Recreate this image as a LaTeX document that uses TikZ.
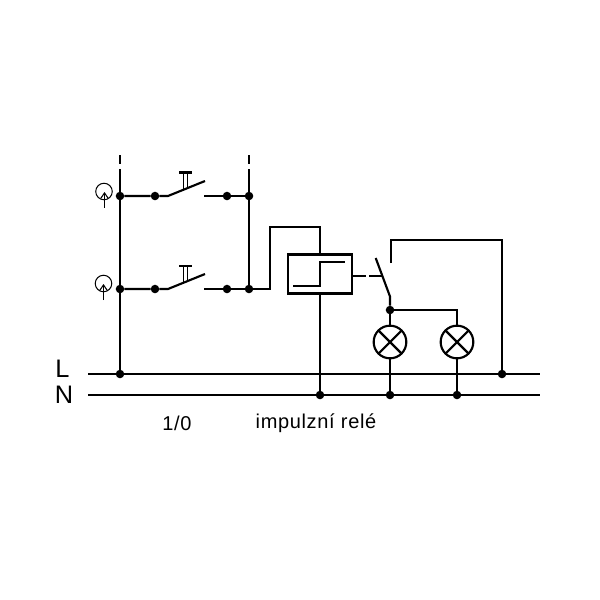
\documentclass[tikz,border=0pt]{standalone}
\usepackage{fontspec}
\setmainfont{Liberation Sans}
\usetikzlibrary{arrows.meta,calc}
\tikzset{
  wire/.style={line width=1.6pt,black},
  thin wire/.style={line width=0.8pt,black},
  junction/.style={circle,fill=black,inner sep=0pt,minimum size=6.4pt,outer sep=0pt},
  lamp/.style={circle,draw=black,line width=1.6pt,fill=white,minimum size=24.5pt,inner sep=0pt,outer sep=0pt},
  sensor/.style={circle,draw=black,line width=0.75pt,minimum size=12.4pt,inner sep=0pt,outer sep=0pt},
  relaybox/.style={rectangle,draw=black,line width=1.6pt,minimum width=48pt,minimum height=29.25pt,inner sep=0pt,outer sep=0pt},
  busname/.style={inner sep=0pt,font=\fontsize{19}{19}\selectfont},
  caption/.style={inner sep=0pt,font=\fontsize{15}{17}\selectfont\addfontfeature{LetterSpace=3.3}},
}
\begin{document}
\begin{tikzpicture}[x=0.75pt,y=-0.75pt]
\useasboundingbox[fill=white] (0,0) rectangle (600,600);
% free ends and bends
\coordinate (Lw) at (88,374); \coordinate (Le) at (540,374);
\coordinate (Nw) at (88,395); \coordinate (Ne) at (540,395);
% junctions
\node[junction] (a1) at (120,196) {};
\node[junction] (a2) at (155,196) {};
\node[junction] (a3) at (227,196) {};
\node[junction] (a4) at (249,196) {};
\node[junction] (b1) at (120,289) {};
\node[junction] (b2) at (155,289) {};
\node[junction] (b3) at (227,289) {};
\node[junction] (b4) at (249,289) {};
\node[junction] (Lj1) at (120,374) {};
\node[junction] (Lj2) at (502,374) {};
\node[junction] (Nj1) at (320,395) {};
\node[junction] (Nj2) at (390,395) {};
\node[junction] (Nj3) at (457,395) {};
\node[junction] (sw) at (390,310) {};
% lamps and relay
\node[lamp] (l1) at (390,342) {};
\node[lamp] (l2) at (457,342) {};
\node[relaybox] (rel) at (320,274) {};
\foreach \n in {l1,l2}{
  \draw[wire] (\n.45) -- (\n.225);
  \draw[wire] (\n.135) -- (\n.315);
}
% buses
\draw[wire] (Lw) -- (Le);
\draw[wire] (Nw) -- (Ne);
% left vertical + dashes
\draw[wire] (120,155) -- (120,164);
\draw[wire] (120,169) -- (a1);
\draw[wire] (a1) -- (b1);
\draw[wire] (b1) -- (Lj1);
\draw[wire] (249,155) -- (249,164);
\draw[wire] (249,169) -- (a4);
\draw[wire] (a4) -- (b4);
% push button switches
\draw[wire] (a1) -- (a2) -- (168,196) -- (205,181);
\draw[wire] (204,196) -- (a3) -- (a4);
\draw[wire] (b1) -- (b2) -- (168,289) -- (205,274);
\draw[wire] (204,289) -- (b3) -- (b4);
% button symbols
\draw[wire] (179,172.5) -- (192,172.5);
\draw[thin wire] (183.5,172.5) -- (183.5,189);
\draw[thin wire] (187.5,172.5) -- (187.5,187);
\draw[wire] (179,266) -- (192,266);
\draw[thin wire] (183.5,266) -- (183.5,282);
\draw[thin wire] (187.5,266) -- (187.5,280.5);
% sensors
\node[sensor] (s1) at (104,191.5) {};
\node[sensor] (s2) at (103.5,283.5) {};
\draw[thin wire,-{Straight Barb[length=4pt,width=5.5pt]}] (104.5,207.5) -- (104.5,192);
\draw[thin wire,-{Straight Barb[length=4pt,width=5.5pt]}] (103.5,300) -- (103.5,284);
% relay feed
\draw[wire] (b4) -- (270,289) -- (270,227) -- (320,227) -- (rel.north);
\draw[wire] (rel.south) -- (Nj1);
% step symbol
\draw[wire] (293,286) -- (320,286) -- (320,262) -- (345,262);
% mechanical link
\coordinate (relLink) at (rel.east |- 0,276);
\draw[wire] (relLink) -- (366,276);
\draw[wire] (369,276) -- (382,276);
% changeover contact
\draw[wire] (375.7,258) -- (390,296.5) -- (sw);
\draw[wire] (391,263) -- (391,240) -- (502,240) -- (Lj2);
\draw[wire] (sw) -- (l1);
\draw[wire] (sw) -- (457,310) -- (l2);
\draw[wire] (l1) -- (Nj2);
\draw[wire] (l2) -- (Nj3);
% text
\node[busname] (tL) at (62.5,369) {L};
\node[busname] (tN) at (64,395) {N};
\node[caption] (t1) at (177,423) {1/0};
\node[caption] (t2) at (316,423) {impulzní relé};
\end{tikzpicture}
\end{document}
